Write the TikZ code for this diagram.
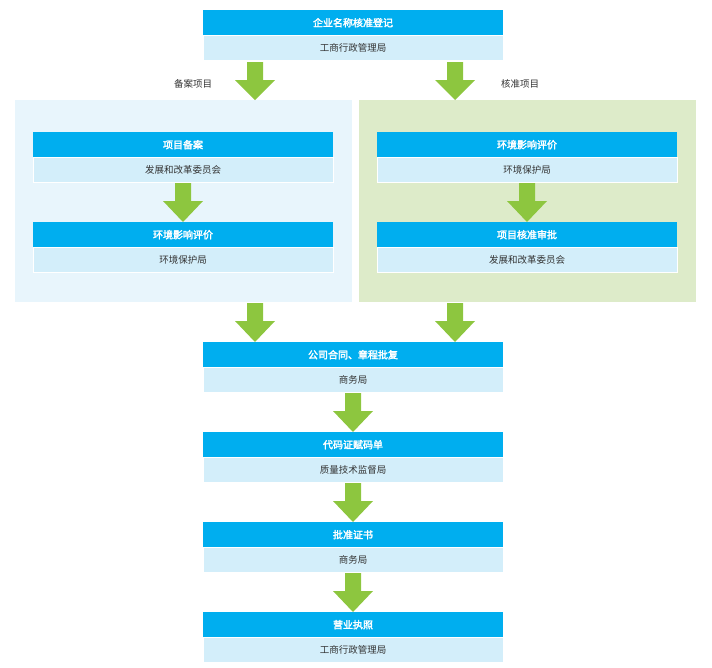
\documentclass[tikz,border=0pt]{standalone}
\usepackage{fontspec}
\setmainfont{Noto Sans CJK SC}[AutoFakeBold=2.5]
\usetikzlibrary{positioning}
\definecolor{hdblue}{HTML}{00AEEF}
\definecolor{sublue}{HTML}{D3EEFA}
\definecolor{panblue}{HTML}{E8F5FC}
\definecolor{pangreen}{HTML}{DDEBC9}
\definecolor{arrgreen}{HTML}{8DC63F}
\tikzset{
  hd/.style={fill=hdblue, text=white, font=\fontsize{10}{12}\selectfont\bfseries,
    minimum width=300pt, minimum height=25pt, inner sep=0pt, anchor=north},
  sub/.style={fill=sublue, draw=white, text=black!80, font=\fontsize{9.5}{12}\selectfont,
    minimum width=300pt, minimum height=25pt, inner sep=0pt, below=0pt of #1},
  lbl/.style={font=\fontsize{9.5}{12}\selectfont, text=black!80}
}
% block arrow: top centre, height
\newcommand\barrow[2]{%
  \fill[arrgreen] ($(#1)+(-8,0)$) -- ++(0,-18) -- ++(-12,0) -- ($(#1)+(0,-#2)$)
    -- ($(#1)+(20,-18)$) -- ++(-12,0) -- ($(#1)+(8,0)$) -- cycle;}
\usetikzlibrary{calc}
\begin{document}
\begin{tikzpicture}[x=1pt,y=1pt]
  \useasboundingbox (0,0) rectangle (712,-667);
  % panels
  \fill[panblue] (15,-100) rectangle (352,-302);
  \fill[pangreen] (359,-100) rectangle (696,-302);
  % top
  \node[hd] (reg) at (353,-10) {企业名称核准登记};
  \node[sub=reg] (regs) {工商行政管理局};
  \node[lbl] (lba) at (193,-84) {备案项目};
  \node[lbl] (lbb) at (520,-84) {核准项目};
  % left panel
  \node[hd] (la) at (183,-132) {项目备案};
  \node[sub=la] (las) {发展和改革委员会};
  \node[hd] (lb) at (183,-222) {环境影响评价};
  \node[sub=lb] (lbs) {环境保护局};
  % right panel
  \node[hd] (ra) at (527,-132) {环境影响评价};
  \node[sub=ra] (ras) {环境保护局};
  \node[hd] (rb) at (527,-222) {项目核准审批};
  \node[sub=rb] (rbs) {发展和改革委员会};
  % main column
  \node[hd] (co) at (353,-342) {公司合同、章程批复};
  \node[sub=co] (cos) {商务局};
  \node[hd] (dm) at (353,-432) {代码证赋码单};
  \node[sub=dm] (dms) {质量技术监督局};
  \node[hd] (pz) at (353,-522) {批准证书};
  \node[sub=pz] (pzs) {商务局};
  \node[hd] (yy) at (353,-612) {营业执照};
  \node[sub=yy] (yys) {工商行政管理局};
  % arrows
  \barrow{255,-62}{38}
  \barrow{455,-62}{38}
  \barrow{183,-183}{39}
  \barrow{527,-183}{39}
  \barrow{255,-303}{39}
  \barrow{455,-303}{39}
  \barrow{353,-393}{39}
  \barrow{353,-483}{39}
  \barrow{353,-573}{39}
\end{tikzpicture}
\end{document}
